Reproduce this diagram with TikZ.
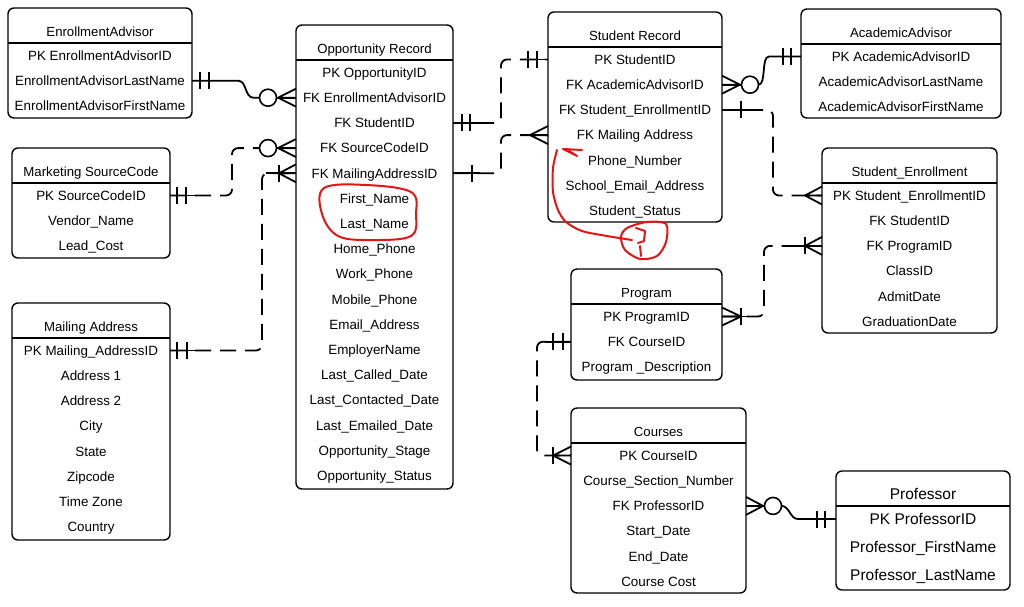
\documentclass[tikz,border=0pt]{standalone}
\usepackage{fontspec}
\setmainfont{Liberation Sans}
\usetikzlibrary{calc}
\definecolor{annot}{RGB}{230,20,20}
\tikzset{
 ebox/.style={draw, line width=1.4pt, rounded corners=6pt, inner sep=0pt, outer sep=0pt},
 hdr/.style={line width=2.4pt},
 ttl/.style={inner sep=0pt, font=\fontsize{13.2}{15}\selectfont, text height=9.5pt, text depth=0pt},
 rowtxt/.style={inner sep=0pt, font=\fontsize{13.4}{15}\selectfont, text height=9.6pt, text depth=0pt},
 bigtxt/.style={inner sep=0pt, font=\fontsize{15.5}{18}\selectfont, text height=11.1pt, text depth=0pt},
 conn/.style={line width=1.8pt},
 barline/.style={line width=2.4pt},
 dconn/.style={conn, dash pattern=on 16pt off 9pt, rounded corners=6pt},
 ercirc/.style={circle, draw, line width=1.6pt, fill=white, minimum size=17pt, inner sep=0pt, outer sep=0pt},
 annotline/.style={draw=annot, line width=2pt, line cap=round, line join=round},
}
\newcommand\entity[6]{%
  \node[ebox, minimum width=#4pt, minimum height=#5pt, anchor=north west] (#1) at (#2,#3) {};
  \draw[hdr] ($(#1.north west)+(0,35)$) -- ($(#1.north east)+(0,35)$);
  \node[ttl] (#1-t) at ($(#1.north)+(0,24)$) {#6};
}
\newcommand\entrows[3]{%
  \foreach \rowtext [count=\i] in {#3}
    \node[rowtxt] (#1-\i) at ($(#1.north)+(0,{47.5+(\i-1)*#2})$) {\rowtext};
}
\newcommand\vbar[2]{\draw[barline] ($#1+(#2,-8.5)$) -- ++(0,17);}
\newcommand\crow[2]{\draw[conn] ($#1+(#2,0)$) -- ($#1+(0,-9)$) ($#1+(#2,0)$) -- #1 ($#1+(#2,0)$) -- ($#1+(0,9)$);}
\begin{document}
\catcode`\_=12
\begin{tikzpicture}[x=1pt,y=-1pt]
\fill[white] (0,0) rectangle (1024,606);
\useasboundingbox (0,0) rectangle (1024,606);

\entity{ea}{8}{8}{184}{110}{EnrollmentAdvisor}
\entrows{ea}{25.2}{PK EnrollmentAdvisorID, EnrollmentAdvisorLastName, EnrollmentAdvisorFirstName}

\entity{ms}{12}{148}{158}{110}{Marketing SourceCode}
\entrows{ms}{25.2}{PK SourceCodeID, Vendor_Name, Lead_Cost}

\entity{ma}{12}{303}{158}{237}{Mailing Address}
\entrows{ma}{25.2}{PK Mailing_AddressID, Address 1, Address 2, City, State, Zipcode, Time Zone, Country}

\entity{opp}{296}{25}{157}{464}{Opportunity Record}
\entrows{opp}{25.2}{PK OpportunityID, FK EnrollmentAdvisorID, FK StudentID, FK SourceCodeID, FK MailingAddressID, First_Name, Last_Name, Home_Phone, Work_Phone, Mobile_Phone, Email_Address, EmployerName, Last_Called_Date, Last_Contacted_Date, Last_Emailed_Date, Opportunity_Stage, Opportunity_Status}

\entity{sr}{548}{12}{174}{210}{Student Record}
\entrows{sr}{25.2}{PK StudentID, FK AcademicAdvisorID, FK Student_EnrollmentID, FK Mailing Address, Phone_Number, School_Email_Address, Student_Status}

\entity{aa}{801}{9}{200}{109}{AcademicAdvisor}
\entrows{aa}{25.2}{PK AcademicAdvisorID, AcademicAdvisorLastName, AcademicAdvisorFirstName}

\entity{se}{822}{148}{175}{185}{Student_Enrollment}
\entrows{se}{25.2}{PK Student_EnrollmentID, FK StudentID, FK ProgramID, ClassID, AdmitDate, GraduationDate}

\entity{pr}{571}{269}{151}{111}{Program}
\entrows{pr}{25.2}{PK ProgramID, FK CourseID, Program _Description}

\entity{co}{571}{408}{175}{185}{Courses}
\entrows{co}{25.2}{PK CourseID, Course_Section_Number, FK ProfessorID, Start_Date, End_Date, Course Cost}

% Professor (larger text)
\node[ebox, minimum width=174pt, minimum height=119pt, anchor=north west] (pf) at (836,471) {};
\draw[hdr] ($(pf.north west)+(0,35)$) -- ($(pf.north east)+(0,35)$);
\node[bigtxt] (pf-t) at ($(pf.north)+(0,23)$) {Professor};
\foreach \rowtext [count=\i] in {PK ProfessorID, Professor_FirstName, Professor_LastName}
  \node[bigtxt] (pf-\i) at ($(pf.north)+(0,{48+(\i-1)*28})$) {\rowtext};

% C1 EnrollmentAdvisor -> Opportunity
\coordinate (c1a) at (ea.east |- ea-2);
\coordinate (c1b) at (opp.west |- opp-2);
\node[ercirc] (k1) at ($(c1b)+(-28,0)$) {};
\draw[conn] (c1a) -- ++(46,0) .. controls +(9,0) and +(-9,0) .. ($(k1.west)+(-6,0)$) -- (k1.west);
\vbar{(c1a)}{8}\vbar{(c1a)}{17}
\crow{(c1b)}{-18}\draw[conn] (k1.east) -- (c1b);

% C2 Marketing -> Opportunity
\coordinate (c2a) at (ms.east |- ms-1);
\coordinate (c2b) at (opp.west |- opp-4);
\node[ercirc] (k2) at ($(c2b)+(-28,0)$) {};
\draw[dconn] (c2a) -- ++(62,0) |- (k2.west);
\draw[conn] (c2a) -- ++(26,0);
\vbar{(c2a)}{7}\vbar{(c2a)}{16}
\crow{(c2b)}{-18}\draw[conn] (k2.east) -- (c2b);

% C3 Mailing -> Opportunity
\coordinate (c3a) at (ma.east |- ma-1);
\coordinate (c3b) at (opp.west |- opp-5);
\draw[dconn] (c3a) -- ++(92,0) |- (c3b);
\draw[conn] (c3a) -- ++(36,0);
\draw[conn] (c3b) -- ++(-30,0);
\vbar{(c3a)}{7}\vbar{(c3a)}{17}
\vbar{(c3b)}{-17}\crow{(c3b)}{-17}

% C4 Opportunity -> Student Record (StudentID)
\coordinate (c4a) at (opp.east |- opp-3);
\coordinate (c4b) at (sr.west |- sr-1);
\draw[dconn] (c4a) -- ++(48,0) |- (c4b);
\draw[conn] (c4a) -- ++(27,0);\vbar{(c4a)}{9}\vbar{(c4a)}{17}
\draw[conn] (c4b) -- ++(-27,0);\vbar{(c4b)}{-11}\vbar{(c4b)}{-20}

% C5 Opportunity -> Student Record (Mailing)
\coordinate (c5a) at (opp.east |- opp-5);
\coordinate (c5b) at (sr.west |- sr-4);
\draw[dconn] (c5a) -- ++(48,0) |- (c5b);
\draw[conn] (c5a) -- ++(27,0);\vbar{(c5a)}{19}
\draw[conn] (c5b) -- ++(-26,0);\crow{(c5b)}{-18}

% C6 Student Record -> AcademicAdvisor
\coordinate (c6a) at (sr.east |- sr-2);
\coordinate (c6b) at (aa.west |- aa-1);
\node[ercirc] (k6) at ($(c6a)+(28,0)$) {};
\crow{(c6a)}{18}\draw[conn] (c6a) -- (k6.west);
\draw[conn] (k6.east) .. controls +(8,0) and +(-8,0) .. ($(c6b)+(-32,0)$) -- (c6b);
\vbar{(c6b)}{-18}\vbar{(c6b)}{-10}

% C7 Student Record -> Student_Enrollment
\coordinate (c7a) at (sr.east |- sr-3);
\coordinate (c7b) at (se.west |- se-1);
\draw[dconn] (c7a) -- ++(51,0) |- (c7b);
\draw[conn] (c7a) -- ++(26,0);\vbar{(c7a)}{19}
\draw[conn] (c7b) -- ++(-28,0);\crow{(c7b)}{-17}

% C8 Program -> Student_Enrollment
\coordinate (c8a) at (pr.east |- pr-1);
\coordinate (c8b) at (se.west |- se-3);
\draw[dconn] (c8a) -- ++(42,0) |- (c8b);
\draw[conn] (c8a) -- ++(28,0);\crow{(c8a)}{19}\vbar{(c8a)}{19}
\draw[conn] (c8b) -- ++(-28,0);\crow{(c8b)}{-17}\vbar{(c8b)}{-17}

% C9 Program -> Courses
\coordinate (c9a) at (pr.west |- pr-2);
\coordinate (c9b) at (co.west |- co-1);
\draw[dconn] (c9a) -- ++(-34,0) |- (c9b);
\draw[conn] (c9a) -- ++(-26,0);\vbar{(c9a)}{-8}\vbar{(c9a)}{-18}
\draw[conn] (c9b) -- ++(-26,0);\crow{(c9b)}{-18}\vbar{(c9b)}{-18}

% C10 Courses -> Professor
\coordinate (c10a) at (co.east |- co-3);
\coordinate (c10b) at (pf.west |- pf-1);
\node[ercirc] (k10) at ($(c10a)+(27,0)$) {};
\crow{(c10a)}{17}\draw[conn] (c10a) -- (k10.west);
\draw[conn] (k10.east) .. controls +(8,0) and +(-8,0) .. ($(c10b)+(-38,0)$) -- (c10b);
\vbar{(c10b)}{-19}\vbar{(c10b)}{-11}

% red annotations
\draw[annotline] plot[smooth cycle, tension=0.6] coordinates {(324,188) (366,185) (411,192) (416,214) (411,236) (372,240) (338,236) (322,214)};
\draw[annotline] (582,150) -- (563,149) -- (577,156) -- (569,151);
\draw[annotline] plot[smooth] coordinates {(557,150) (553,168) (553,192) (558,210) (566,222) (582,231) (607,236) (632,240)};
\draw[annotline] plot[smooth cycle] coordinates {(627,228) (647,222) (666,224) (666,242) (657,256) (640,259) (625,250) (621,237)};
\draw[annotline] (636,228) -- (645,231) -- (644,241) -- (638,243);
\draw[annotline] (640,246) -- (641,256);
\end{tikzpicture}
\end{document}
